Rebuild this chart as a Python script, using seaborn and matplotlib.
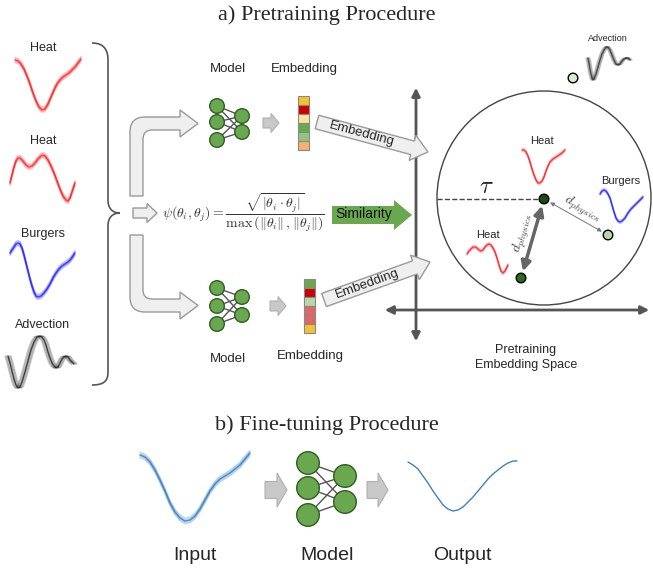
import numpy as np
import matplotlib
matplotlib.use("Agg")
import matplotlib.pyplot as plt
from matplotlib.patches import Circle, Rectangle, FancyArrow, PathPatch
from matplotlib.path import Path
import seaborn as sns

# ---- curve data (pixel coordinates) ----
heat1_x = [15, 18, 21, 24, 27, 30, 33, 36, 39, 42, 45, 48, 51, 54, 57, 60, 63, 66, 69, 72, 75, 78, 81]
heat1_y = [60, 61, 64, 69, 76, 84, 93, 101, 107, 110, 109, 104, 97, 90, 84, 80, 77, 75, 73, 70, 67, 63, 59]
heat2_x = [10, 12, 14, 16, 18, 20, 23, 26, 29, 32, 35, 38, 41, 43, 45, 48, 51, 54, 57, 60, 63, 66,
           68, 70, 72, 75]
heat2_y = [183, 175, 167, 161, 158, 158, 161, 165, 167, 166, 163, 159, 156, 155, 156, 160, 166, 173,
           181, 189, 196, 200, 201, 198, 192, 183]
burg_x = [10, 12, 14, 16, 18, 20, 22, 24, 26, 28, 30, 32, 34, 36, 38, 41, 44, 47, 50, 53, 56, 59,
          62, 65, 68, 71, 75]
burg_y = [253, 250, 247, 244, 243, 244, 248, 255, 263, 271, 279, 286, 292, 296, 297, 296, 293, 289,
          284, 278, 273, 269, 266, 264, 262, 259, 253]
adv_x = [8, 10, 12, 14, 16, 18, 20, 22, 25, 28, 31, 34, 37, 40, 42, 44, 46, 48, 50, 52, 54, 56, 58,
         60, 62, 64, 66, 68, 70, 72, 74]
adv_y = [356, 363, 371, 379, 385, 388, 387, 382, 372, 361, 350, 342, 337, 336, 337, 340, 345, 352,
         358, 363, 366, 368, 367, 363, 359, 357, 356, 357, 360, 362, 364]

in_heat1_x = [522, 524, 526, 528, 530, 532, 534, 536, 538, 540, 542, 544, 546, 548, 550, 553, 556,
              559, 562, 565]
in_heat1_y = [150, 150, 152, 156, 162, 169, 175, 180, 183, 183, 181, 177, 171, 166, 162, 159, 157,
              155, 153, 150]
in_heat2_x = [467, 469, 471, 473, 475, 477, 479, 481, 483, 485, 487, 489, 491, 493, 495, 497, 499,
              501, 503, 505, 507, 508]
in_heat2_y = [254, 251, 249, 247, 247, 248, 250, 251, 250, 247, 245, 244, 245, 248, 252, 258, 265,
              271, 273, 271, 267, 265]
in_burg_x = [600, 602, 604, 606, 608, 610, 612, 614, 616, 618, 620, 622, 625, 628, 631, 634, 637,
             640, 643]
in_burg_y = [194, 191, 190, 191, 194, 198, 205, 212, 218, 221, 222, 221, 218, 213, 209, 206, 203,
             200, 197]
top_adv_x = [588, 589, 590, 591, 592, 593, 594, 596, 598, 600, 602, 604, 606, 608, 610, 612, 614,
             616, 618, 620, 622, 624, 626, 628, 630]
top_adv_y = [58, 63, 69, 74, 78, 80, 79, 74, 67, 60, 54, 50, 47, 47, 50, 55, 60, 64, 65, 64, 61, 59,
             58, 58, 60]

input_x = [140, 145, 150, 155, 160, 165, 170, 175, 180, 185, 190, 195, 200, 205, 210, 215, 220, 225,
           230, 235, 240, 245, 250]
input_y = [455, 457, 462, 470, 480, 491, 503, 512, 518, 521, 520, 516, 509, 500, 491, 484, 479, 476,
           473, 469, 465, 459, 453]
output_x = [408, 413, 418, 423, 428, 433, 438, 443, 448, 453, 458, 463, 468, 473, 478, 483, 488, 493,
            498, 503, 508, 513, 517]
output_y = [462, 465, 469, 476, 483, 491, 498, 505, 509, 511, 510, 507, 502, 497, 491, 485, 479, 474,
            470, 466, 463, 461, 461]

emb_top = ["#f1c232", "#cc0000", "#ffe599", "#6aa84f", "#93c47d", "#f6b26b"]
emb_bottom = ["#6aa84f", "#cc0000", "#b6d7a8", "#e06666", "#e06666", "#f1c232"]

sns.set_theme(style="white")
plt.rcParams["font.family"] = ["Liberation Sans", "DejaVu Sans"]
plt.rcParams["mathtext.fontset"] = "cm"

fig = plt.figure(figsize=(6.53, 5.69), dpi=100)
ax = fig.add_axes([0, 0, 1, 1])

HOLLOW = dict(fc="#efefef", ec="#9a9a9a", lw=1)
GRAY = dict(fc="#c8c8c8", ec="#b0b0b0", lw=0.8)
DARK = "#555555"


def band(xs, ys, color, spread=2.5, n=7, dx=False, alpha=0.22, core=0.8):
    xs = np.asarray(xs, float)
    ys = np.asarray(ys, float)
    for off in np.linspace(-spread, spread, n):
        sns.lineplot(x=xs + off if dx else xs, y=ys if dx else ys + off, ax=ax,
                     color=color, lw=1, alpha=alpha, sort=False, estimator=None)
    sns.lineplot(x=xs, y=ys, ax=ax, color=color, lw=1, alpha=core,
                 sort=False, estimator=None)


def net(lx, lys, rx, rys, r):
    for a in lys:
        for b in rys:
            ax.plot([lx, rx], [a, b], color=DARK, lw=1, zorder=2)
    for y in lys:
        ax.add_patch(Circle((lx, y), r, fc="#6aa84f", ec="#2f5e22", lw=1, zorder=3))
    for y in rys:
        ax.add_patch(Circle((rx, y), r, fc="#6aa84f", ec="#2f5e22", lw=1, zorder=3))


def emb_bar(x, y0, cells, w=11, h=9):
    for i, c in enumerate(cells):
        ax.add_patch(Rectangle((x, y0 + i * h), w, h, fc=c, ec="#888888", lw=0.8))


def text(x, y, s, size=9, **kw):
    ax.text(x, y, s, fontsize=size, ha="center", va="center", **kw)


# ---- titles ----
text(327, 15, "a) Pretraining Procedure", 16, family=["Liberation Serif"])
text(327, 425, "b) Fine-tuning Procedure", 16, family=["Liberation Serif"])

# ---- left input curves ----
text(43, 48, "Heat")
band(heat1_x, heat1_y, "#ff2222")
text(43, 141, "Heat")
band(heat2_x, heat2_y, "#ff2222")
text(43, 234, "Burgers")
band(burg_x, burg_y, "#2222ff")
text(43, 325, "Advection")
band(adv_x, adv_y, "#222222", spread=3, dx=True, alpha=0.25)

# brace
brace = Path([(92, 43), (104, 43), (108, 50), (108, 60), (108, 200),
              (108, 208), (112, 213), (120, 213),
              (112, 213), (108, 218), (108, 226), (108, 372),
              (108, 381), (104, 385), (92, 385)],
             [Path.MOVETO, Path.CURVE4, Path.CURVE4, Path.CURVE4, Path.LINETO,
              Path.CURVE4, Path.CURVE4, Path.CURVE4,
              Path.CURVE4, Path.CURVE4, Path.CURVE4, Path.LINETO,
              Path.CURVE4, Path.CURVE4, Path.CURVE4])
ax.add_patch(PathPatch(brace, fill=False, ec=DARK, lw=1.2))

# curved hollow arrows
up = Path([(130, 196), (130, 132), (130, 117), (145, 117), (180, 117), (180, 110),
           (198, 123.5), (180, 137), (180, 130), (152, 130), (143, 130), (143, 139),
           (143, 196), (130, 196)],
          [Path.MOVETO, Path.LINETO, Path.CURVE3, Path.CURVE3, Path.LINETO, Path.LINETO,
           Path.LINETO, Path.LINETO, Path.LINETO, Path.LINETO, Path.CURVE3, Path.CURVE3,
           Path.LINETO, Path.CLOSEPOLY])
ax.add_patch(PathPatch(up, **HOLLOW))
down = Path([(130, 235), (130, 297), (130, 312), (145, 312), (180, 312), (180, 319),
             (198, 305.5), (180, 292), (180, 299), (152, 299), (143, 299), (143, 290),
             (143, 235), (130, 235)],
            [Path.MOVETO, Path.LINETO, Path.CURVE3, Path.CURVE3, Path.LINETO, Path.LINETO,
             Path.LINETO, Path.LINETO, Path.LINETO, Path.LINETO, Path.CURVE3, Path.CURVE3,
             Path.LINETO, Path.CLOSEPOLY])
ax.add_patch(PathPatch(down, **HOLLOW))
ax.add_patch(FancyArrow(133, 213, 24, 0, width=10, head_width=19, head_length=10,
                        length_includes_head=True, **HOLLOW))

# ---- models and embeddings ----
text(228, 69, "Model", 9.5)
text(304, 69, "Embedding", 9.5)
net(217, [106, 122, 140], 242, [116, 132], 7.3)
ax.add_patch(FancyArrow(263, 123, 16, 0, width=10, head_width=19, head_length=8,
                        length_includes_head=True, **GRAY))
emb_bar(298, 96, emb_top)

text(228, 359, "Model", 9.5)
text(310, 356, "Embedding", 9.5)
net(217, [288, 306, 324], 242, [297, 315], 7.3)
ax.add_patch(FancyArrow(270, 306, 16, 0, width=10, head_width=19, head_length=8,
                        length_includes_head=True, **GRAY))
emb_bar(304, 279, emb_bottom)

# formula and similarity
text(243, 213, r"$\psi(\theta_i,\theta_j) = \dfrac{\sqrt{|\theta_i\cdot\theta_j|}}"
               r"{\max\,(\Vert\theta_i\Vert\,,\Vert\theta_j\Vert)}$", 10, color="#333333")
ax.add_patch(FancyArrow(332, 215, 80, 0, width=18, head_width=30, head_length=18,
                        length_includes_head=True, fc="#6aa84f", ec="none"))
text(364, 214, "Similarity", 10, color="#111111")

# ---- embedding space axes ----
ax.annotate("", xy=(416, 85), xytext=(416, 344),
            arrowprops=dict(arrowstyle="<|-|>", color=DARK, lw=2, mutation_scale=12))
ax.annotate("", xy=(382, 310), xytext=(652, 310),
            arrowprops=dict(arrowstyle="<|-|>", color=DARK, lw=2, mutation_scale=12))

# embedding arrows
ax.add_patch(FancyArrow(317, 122, 111, 30, width=14, head_width=26, head_length=16,
                        length_includes_head=True, zorder=4, **HOLLOW))
text(362, 134, "Embedding", 9.5, rotation=-15, zorder=5)
ax.add_patch(FancyArrow(324, 300, 106, -38, width=14, head_width=26, head_length=16,
                        length_includes_head=True, zorder=4, **HOLLOW))
text(367, 284, "Embedding", 9.5, rotation=20, zorder=5)

# circle region
ax.add_patch(Circle((544, 198), 107, fill=False, ec="#444444", lw=1))
ax.plot([437, 544], [199, 199], ls="--", color="#444444", lw=1)
text(486, 186, r"$\tau$", 18)

ax.annotate("", xy=(544, 199), xytext=(521, 278),
            arrowprops=dict(arrowstyle="<|-|>", color="#666666", lw=2.5, mutation_scale=14,
                            shrinkA=5, shrinkB=5))
ax.annotate("", xy=(544, 199), xytext=(608, 235),
            arrowprops=dict(arrowstyle="<|-|>", color="#777777", lw=0.7, mutation_scale=6,
                            shrinkA=5, shrinkB=5))
text(523, 233, r"$d_{physics}$", 10, rotation=74, color="#444444")
text(582, 209, r"$d_{physics}$", 10, rotation=-29, color="#444444")

ax.add_patch(Circle((544, 199), 4.8, fc="#1e4a1a", ec="black", lw=1, zorder=5))
ax.add_patch(Circle((521, 278), 4.8, fc="#2e6b22", ec="black", lw=1, zorder=5))
ax.add_patch(Circle((608, 235), 4.8, fc="#b6d7a8", ec="black", lw=1, zorder=5))
ax.add_patch(Circle((573, 78), 4.8, fc="#d9ead3", ec="black", lw=1, zorder=5))

text(542, 141, "Heat", 8)
band(in_heat1_x, in_heat1_y, "#ff2222", spread=1.5, n=5, alpha=0.2)
text(488, 235, "Heat", 8)
band(in_heat2_x, in_heat2_y, "#ff2222", spread=1.5, n=5, alpha=0.2)
text(621, 181, "Burgers", 8)
band(in_burg_x, in_burg_y, "#2222ff", spread=1.5, n=5, alpha=0.2)
text(608, 38, "Advection", 6.5)
band(top_adv_x, top_adv_y, "#333333", spread=2, n=6, dx=True, alpha=0.25)

text(526, 350, "Pretraining", 9)
text(526, 365, "Embedding Space", 9)

# ---- fine-tuning ----
band(input_x, input_y, "#2f7bbf", spread=3, n=8, alpha=0.2)
ax.add_patch(FancyArrow(265, 490, 22, 0, width=17, head_width=34, head_length=10,
                        length_includes_head=True, **GRAY))
net(308, [463, 488, 515], 345, [476, 502], 11.3)
ax.add_patch(FancyArrow(367, 490, 21, 0, width=17, head_width=34, head_length=10,
                        length_includes_head=True, **GRAY))
sns.lineplot(x=output_x, y=output_y, ax=ax, color="#3c82c2", lw=1, sort=False, estimator=None)

text(195, 555, "Input", 14)
text(327, 555, "Model", 14)
text(462, 555, "Output", 14)

ax.set_xlim(0, 653)
ax.set_ylim(569, 0)
ax.set_aspect("equal")
ax.axis("off")
fig.savefig("out.png", dpi=100)
